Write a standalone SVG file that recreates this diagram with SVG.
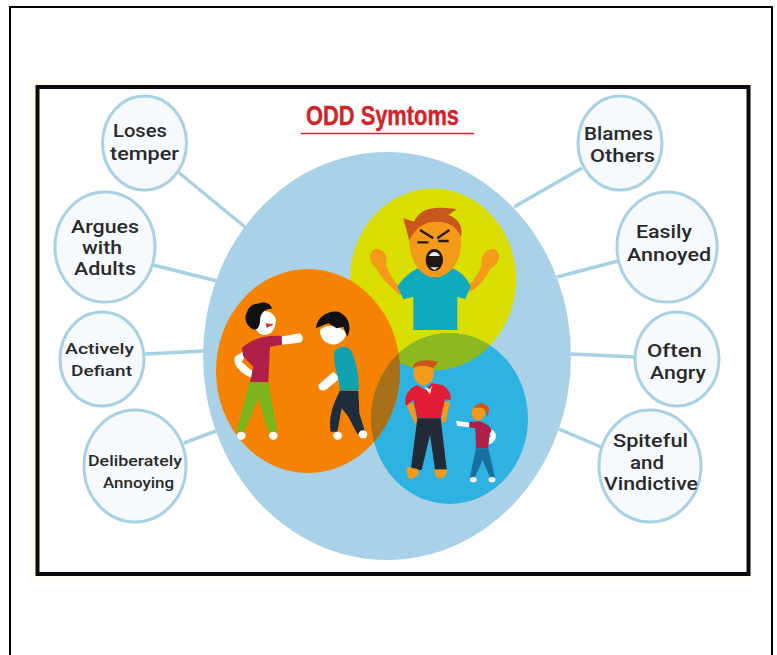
<svg xmlns="http://www.w3.org/2000/svg" width="777" height="655" viewBox="0 0 777 655">
<style>
.b{fill:#f6fafc;stroke:#a9d1e5;stroke-width:3}
.c{stroke:#a9d1e5;stroke-width:3.500;fill:none}
.t{font-family:Roboto,"Open Sans",sans-serif;font-weight:500;font-size:17.500px;fill:#2a2a2c;text-anchor:middle}
.s{font-size:15.500px}
.w{fill:#fff}.o{fill:#f39a1a}.n{fill:#1f2c3c}
</style>
<defs>
<clipPath id="cb"><ellipse cx="449.500" cy="418.500" rx="78.500" ry="85.500"/></clipPath>
</defs>
<rect width="777" height="655" fill="#fff"/>
<path d="M10 655V7H772V655" fill="none" stroke="#000" stroke-width="2"/>
<rect x="29" y="80" width="723" height="503" fill="#fefcf3"/>
<rect x="37.500" y="87" width="711" height="487" fill="#fff" stroke="#0a0a0a" stroke-width="4"/>
<g id="connectors">
<path class="c" d="M178 172L245 227M153 265L217 281M145 354L205 351M184 443L216 431M582 168L514 207M618 261L557 277M635 357L571 354M601 447L559 429"/>
</g>
<g id="title">
<text x="382.500" y="125" font-family="'Liberation Sans Narrow','Liberation Sans',sans-serif" font-weight="700" font-size="27" fill="#d0242b" stroke="#d0242b" stroke-width=".4" text-anchor="middle" textLength="153" lengthAdjust="spacingAndGlyphs">ODD Symtoms</text>
<path d="M301 133.500H474" stroke="#d5232a" stroke-width="1.500"/>
</g>
<g id="venn">
<ellipse cx="387" cy="356" rx="184" ry="204" fill="#a9d2e8"/>
<ellipse cx="433" cy="279.500" rx="83" ry="91" fill="#d9de00"/>
<ellipse cx="449.500" cy="418.500" rx="78.500" ry="85.500" fill="#2eb2e2"/>
<ellipse cx="433" cy="279.500" rx="83" ry="91" fill="#8cba1e" clip-path="url(#cb)"/>
<ellipse cx="308" cy="371" rx="92" ry="102" fill="#f58200"/>
<ellipse cx="308" cy="371" rx="92" ry="102" fill="#a9701a" clip-path="url(#cb)"/>
</g>
<g id="figures" transform="translate(200 180) scale(.33333)">
<g id="angry">
<path class="o" d="M600 345C570 320 540 290 528 265C505 245 505 215 525 208C550 205 565 225 558 255C570 290 590 315 612 330ZM810 335C840 320 860 290 872 265C900 250 905 220 885 208C860 205 840 225 845 255C835 285 815 310 795 325Z"/>
<path d="M640 450V350L610 358L593 320C610 290 640 270 660 262H750C775 270 800 290 812 320L795 358L772 350V450Z" fill="#0faabd"/>
<path class="o" d="M628 180C628 130 665 115 705 115C750 115 783 140 783 190C783 250 745 292 703 292C660 292 628 240 628 180Z"/>
<path d="M628 182L610 115L642 125C660 90 690 75 770 88L745 105C775 115 790 140 783 172C770 135 740 125 710 125C680 125 650 135 628 182Z" fill="#c9571a"/>
<path d="M660 150L700 175M748 150L712 175M652 187H685M715 183H746" stroke="#2a1a10" stroke-width="7" fill="none"/>
<ellipse cx="703" cy="240" rx="26" ry="33" fill="#22160f"/>
<path d="M686 228C695 212 712 212 720 228ZM690 262H716L703 270Z" fill="#eee"/>
</g>
<g id="pusher">
<path class="w" d="M165 400C190 385 225 395 228 420C225 450 215 465 190 465C165 460 160 430 165 400ZM240 470L300 460C312 470 310 485 298 488L245 494ZM128 515L105 530C95 555 125 580 150 592C165 590 165 575 150 568L125 545L135 530Z"/>
<path d="M200 444L222 433L197 430Z" fill="#c0392b"/>
<path d="M170 372C190 362 212 368 216 386C195 385 180 398 180 425C178 448 165 455 150 442C135 430 132 410 142 395C145 382 158 372 170 372Z" fill="#111"/>
<path d="M125 505C150 480 190 465 245 468L246 494L210 500L205 607H150L160 560L130 530Z" fill="#b01f48"/>
<path d="M148 607H205L232 755H205L175 655L132 755H110Z" fill="#7ab51d"/>
<ellipse cx="124" cy="767" rx="13" ry="12" class="w"/><ellipse cx="220" cy="767" rx="13" ry="12" class="w"/>
</g>
<g id="pushed">
<path class="w" d="M360 450C385 425 435 440 438 465C430 490 400 500 385 490C370 485 360 470 360 450ZM400 575L355 615C355 632 370 635 380 628L420 595Z"/>
<path d="M348 445C350 410 385 390 415 395C450 410 455 445 442 470L430 440L410 445L385 430C370 435 360 440 348 445Z" fill="#111"/>
<path d="M402 520C410 495 445 495 455 515C470 550 478 590 476 630L420 632C420 600 400 560 402 520Z" fill="#0fa3b1"/>
<path d="M420 632H475L478 700L495 755L472 762L445 710L425 685L412 755H392C385 710 400 670 420 632Z" class="n"/>
<ellipse cx="413" cy="767" rx="13" ry="12" class="w"/><ellipse cx="489" cy="763" rx="13" ry="12" class="w"/>
</g>
<g id="man">
<path class="o" d="M640 575C640 555 660 545 685 548C705 555 705 590 695 605L670 618C650 610 640 595 640 575ZM618 670L645 733L652 725L640 670ZM728 665L725 730L738 725L750 665Z"/>
<path d="M638 565C640 545 660 535 715 545L700 565C680 555 655 555 638 565Z" fill="#c9571a"/>
<path d="M652 615L675 630L695 610L728 615C745 625 755 645 752 660L735 658L722 715H652L640 660L618 678C610 650 625 625 652 615Z" fill="#e11d35"/>
<path d="M672 620L690 642L697 615L690 628Z" fill="#fff"/>
<path d="M652 715H722L740 868H705L690 765L665 870H632Z" fill="#222a38"/>
<path class="o" d="M622 860L655 868L655 885L632 898C622 895 618 875 622 860ZM705 870H740C745 885 730 895 720 895C710 895 702 885 705 870Z"/>
</g>
<g id="child">
<path class="o" d="M815 700C815 680 835 672 850 680C860 695 855 715 838 722C822 720 815 712 815 700Z"/>
<path d="M822 685C830 665 855 665 868 685L862 712L855 690C845 680 832 682 822 685Z" fill="#c9571a"/>
<path class="w" d="M768 722L808 728L808 742L772 738ZM870 745C890 755 895 775 875 790L855 798L853 785L872 770L868 755Z"/>
<path d="M808 726L838 724C860 730 878 745 874 752L868 765L865 805H828L826 745L808 742Z" fill="#b01f48"/>
<path d="M828 805H865L885 892H870L848 840L825 892H810Z" fill="#17709e"/>
<ellipse cx="820" cy="899" rx="10" ry="8" class="w"/><ellipse cx="876" cy="899" rx="10" ry="8" class="w"/>
</g>
</g>
<g id="loses"><ellipse class="b" cx="144.500" cy="143" rx="42" ry="47"/><text class="t" x="140" y="137" textLength="54" lengthAdjust="spacingAndGlyphs">Loses</text><text class="t" x="144.500" y="160" textLength="69" lengthAdjust="spacingAndGlyphs">temper</text></g>
<g id="argues"><ellipse class="b" cx="105" cy="247" rx="50" ry="55"/><text class="t" x="105" y="233" textLength="68" lengthAdjust="spacingAndGlyphs">Argues</text><text class="t" x="102" y="254" textLength="40" lengthAdjust="spacingAndGlyphs">with</text><text class="t" x="105" y="275" textLength="62" lengthAdjust="spacingAndGlyphs">Adults</text></g>
<g id="defiant"><ellipse class="b" cx="102" cy="359" rx="42" ry="47"/><text class="t s" x="99.500" y="354" textLength="69" lengthAdjust="spacingAndGlyphs">Actively</text><text class="t s" x="101.500" y="376" textLength="61" lengthAdjust="spacingAndGlyphs">Defiant</text></g>
<g id="annoying"><ellipse class="b" cx="135" cy="466" rx="51" ry="56"/><text class="t s" x="135" y="466" textLength="94" lengthAdjust="spacingAndGlyphs">Deliberately</text><text class="t s" x="138.500" y="488" textLength="71" lengthAdjust="spacingAndGlyphs">Annoying</text></g>
<g id="blames"><ellipse class="b" cx="620" cy="143" rx="42" ry="47"/><text class="t" x="618.500" y="140" textLength="69" lengthAdjust="spacingAndGlyphs">Blames</text><text class="t" x="622.500" y="162" textLength="65" lengthAdjust="spacingAndGlyphs">Others</text></g>
<g id="easily"><ellipse class="b" cx="667" cy="247" rx="50" ry="55"/><text class="t" x="664" y="238" textLength="56" lengthAdjust="spacingAndGlyphs">Easily</text><text class="t" x="669" y="261" textLength="84" lengthAdjust="spacingAndGlyphs">Annoyed</text></g>
<g id="often"><ellipse class="b" cx="677" cy="359" rx="42" ry="47"/><text class="t" x="674.500" y="357" textLength="55" lengthAdjust="spacingAndGlyphs">Often</text><text class="t" x="678" y="379" textLength="56" lengthAdjust="spacingAndGlyphs">Angry</text></g>
<g id="spiteful"><ellipse class="b" cx="650" cy="466" rx="51" ry="56"/><text class="t" x="650.500" y="447" textLength="75" lengthAdjust="spacingAndGlyphs">Spiteful</text><text class="t" x="647" y="469" textLength="34" lengthAdjust="spacingAndGlyphs">and</text><text class="t" x="651" y="490" textLength="94" lengthAdjust="spacingAndGlyphs">Vindictive</text></g>
</svg>
